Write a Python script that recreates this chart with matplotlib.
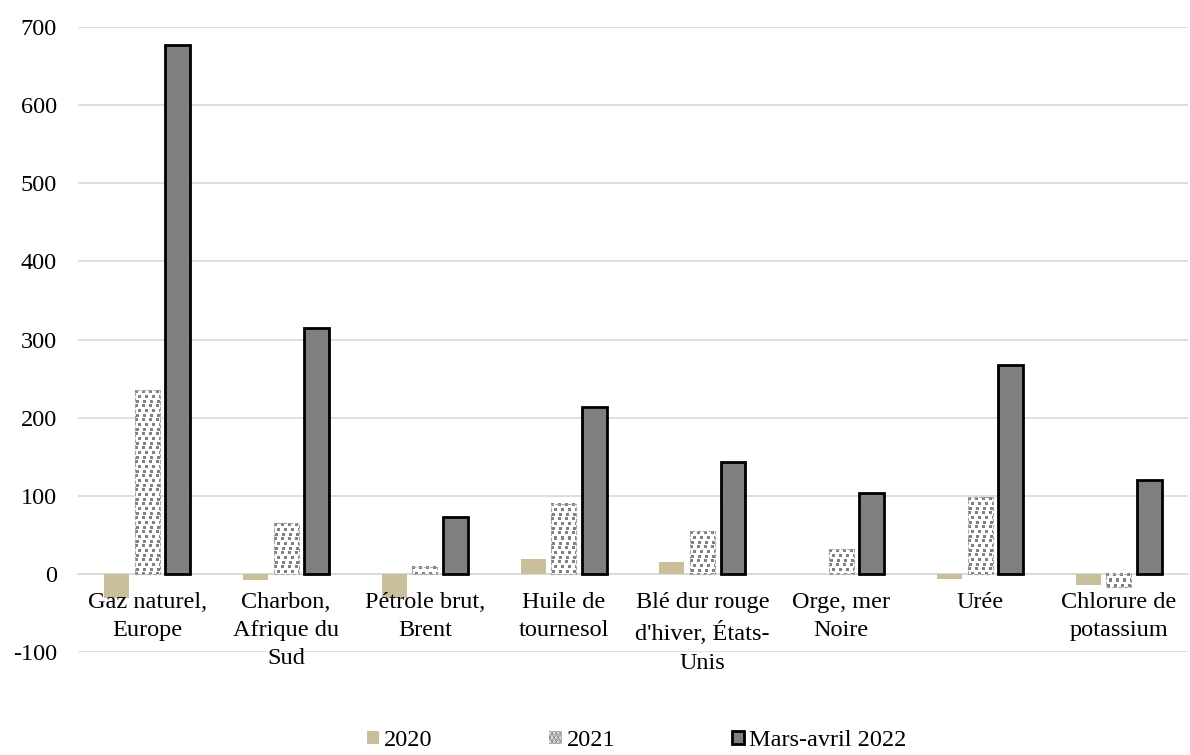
import matplotlib.pyplot as plt
import numpy as np
from matplotlib.colors import ListedColormap
from matplotlib.patches import Patch

plt.rcParams['font.family'] = ['Liberation Serif', 'DejaVu Serif']
plt.rcParams['axes.unicode_minus'] = False
plt.rcParams['hatch.linewidth'] = 2.5

# data
categories = ['Gaz naturel,\nEurope', 'Charbon,\nAfrique du\nSud', 'Pétrole brut,\nBrent',
              'Huile de\ntournesol', "Blé dur rouge\nd'hiver, États-\nUnis", 'Orge, mer\nNoire',
              'Urée', 'Chlorure de\npotassium']
v2020 = [-31, -8, -31, 19, 15, 0, -6, -14]
v2021 = [235, 65, 9, 90, 55, 32, 98, -17]
v2022 = [677, 315, 73, 213, 143, 104, 267, 120]
labels = ['2020', '2021', 'Mars-avril 2022']

fs = 17.5
fig = plt.figure(figsize=(11.9, 7.55), dpi=100)
ax = fig.add_axes([0.0655, 0.1364, 0.933, 0.8278])

x = np.arange(len(categories))
w = 0.18
off = 0.22
b1 = ax.bar(x - off, v2020, w, color='#c9bf9a', zorder=3)
b2 = ax.bar(x, v2021, w, facecolor='none', edgecolor='#a6a6a6',
            linewidth=0.8, linestyle='--', zorder=3.4)
b3 = ax.bar(x + off, v2022, w, color='#7f7f7f', edgecolor='black', linewidth=2, zorder=3)

ax.set_ylim(-100, 700)
ax.set_xlim(-0.5, len(categories) - 0.5)

# confetti-like square pattern inside the 2021 bars
tile = np.zeros((14, 14))
for r, c in [(0, 0), (0, 7), (5, 3), (5, 10), (10, 1), (10, 8)]:
    tile[r:r + 3, c:c + 3] = 1
cmap = ListedColormap(['white', '#808080'])
for bar in b2:
    bb = bar.get_window_extent()
    wpx, hpx = int(round(bb.width)), int(round(bb.height))
    if hpx < 1:
        continue
    img = np.tile(tile, (hpx // 14 + 1, wpx // 14 + 1))[:hpx, :wpx]
    x0, y0 = bar.get_x(), bar.get_y()
    y1 = y0 + bar.get_height()
    ax.imshow(img, cmap=cmap, vmin=0, vmax=1, aspect='auto', interpolation='nearest',
              extent=(x0, x0 + bar.get_width(), min(y0, y1), max(y0, y1)),
              zorder=3.2, clip_path=bar)

ax.set_ylim(-100, 700)
ax.set_xlim(-0.5, len(categories) - 0.5)
ax.set_yticks(range(-100, 701, 100))
ax.yaxis.grid(True, color='#d9d9d9', linewidth=1.2)
ax.set_axisbelow(True)
ax.xaxis.set_zorder(5)
for s in ['top', 'right', 'left']:
    ax.spines[s].set_visible(False)
ax.spines['bottom'].set_position(('data', 0))
ax.spines['bottom'].set_color('#d9d9d9')
ax.spines['bottom'].set_linewidth(1.2)
ax.spines['bottom'].set_zorder(1)
ax.set_xticks(x)
ax.set_xticklabels(categories, fontsize=fs, linespacing=1.45)
ax.tick_params(axis='x', length=0, pad=13)
ax.tick_params(axis='y', length=0, labelsize=fs, pad=15)

handles = [Patch(facecolor='#c9bf9a', linewidth=0),
           Patch(facecolor='white', edgecolor='#808080', hatch='....', linewidth=0),
           Patch(facecolor='#7f7f7f', edgecolor='black', linewidth=2)]
fig.legend(handles=handles, labels=labels, loc='center', bbox_to_anchor=(0.535, 0.019),
           ncol=3, frameon=False, fontsize=fs, handlelength=0.5, handleheight=0.5,
           handletextpad=0.2, columnspacing=4.8, borderpad=0)

fig.savefig('out.png', dpi=100)
